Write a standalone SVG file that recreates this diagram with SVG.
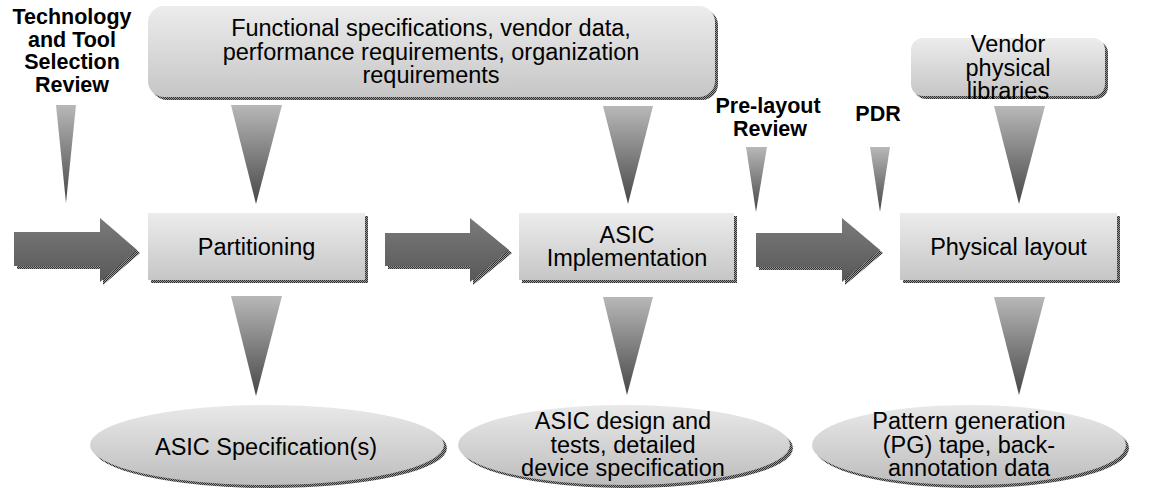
<svg xmlns="http://www.w3.org/2000/svg" width="1171" height="490" viewBox="0 0 1171 490">
  <style>
    .t { font-family: "Liberation Sans", Arial, sans-serif; font-size: 23.5px; fill: #000; text-anchor: middle; }
    .b { font-family: "Liberation Sans", Arial, sans-serif; font-size: 21.5px; font-weight: bold; fill: #000; text-anchor: middle; }
    .box { fill: url(#gBox); }
    .ell { fill: url(#gEll); }
    .sh { fill: url(#dither); }
    .tri { fill: url(#gTri); }
    .arr { fill: url(#gArr); }
  </style>
  <defs>
    <linearGradient id="gBox" x1="0" y1="0" x2="0" y2="1">
      <stop offset="0" stop-color="#ececec"/>
      <stop offset="1" stop-color="#c6c6c6"/>
    </linearGradient>
    <linearGradient id="gEll" x1="0" y1="0" x2="0" y2="1">
      <stop offset="0" stop-color="#e9e9e9"/>
      <stop offset="1" stop-color="#bdbdbd"/>
    </linearGradient>
    <linearGradient id="gTri" x1="0" y1="0" x2="0" y2="1">
      <stop offset="0" stop-color="#b8b8b8"/>
      <stop offset="1" stop-color="#474747"/>
    </linearGradient>
    <linearGradient id="gArr" x1="0" y1="0" x2="0" y2="1">
      <stop offset="0" stop-color="#7a7a7a"/>
      <stop offset="1" stop-color="#585858"/>
    </linearGradient>
    <pattern id="dither" width="2" height="2" patternUnits="userSpaceOnUse">
      <rect width="2" height="2" fill="#9a9a9a"/>
      <rect width="1" height="1" fill="#2e2e2e"/>
      <rect x="1" y="1" width="1" height="1" fill="#2e2e2e"/>
    </pattern>
  </defs>
  <rect width="1171" height="490" fill="#ffffff"/>

  <g id="connectors">
    <g id="flow-arrows">
      <polygon class="sh" points="17,235 103,235 103,221 140,253 103,285 103,269 17,269"/>
      <polygon class="arr" points="14,232 100,232 100,218 137,250 100,282 100,266 14,266"/>
      <polygon class="sh" points="388,236 473,236 473,221 512,253 473,285 473,269 388,269"/>
      <polygon class="arr" points="385,233 470,233 470,218 509,250 470,282 470,266 385,266"/>
      <polygon class="sh" points="759,236 845,236 845,221 883,253 845,285 845,270 759,270"/>
      <polygon class="arr" points="756,233 842,233 842,218 880,250 842,282 842,267 756,267"/>
    </g>
    <g id="input-triangles">
      <polygon class="tri" points="56,105 76,105 66,203"/>
      <polygon class="tri" points="231,105 282,105 256,204"/>
      <polygon class="tri" points="603,106 653,106 628,204"/>
      <polygon class="tri" points="746,147 767,147 756,212"/>
      <polygon class="tri" points="870,147 890,147 880,212"/>
      <polygon class="tri" points="994,106 1045,106 1019,204"/>
    </g>
    <g id="output-triangles">
      <polygon class="tri" points="231,296 282,296 256,396"/>
      <polygon class="tri" points="603,297 653,297 627,395"/>
      <polygon class="tri" points="994,297 1045,297 1019,395"/>
    </g>
  </g>

  <g id="review-tech">
    <text class="b" x="72" y="24">Technology</text>
    <text class="b" x="72" y="46.5">and Tool</text>
    <text class="b" x="72" y="69">Selection</text>
    <text class="b" x="72" y="91.5">Review</text>
  </g>
  <g id="review-prelayout">
    <text class="b" x="768" y="113">Pre-layout</text>
    <text class="b" x="770" y="136">Review</text>
  </g>
  <g id="review-pdr">
    <text class="b" x="878" y="121">PDR</text>
  </g>

  <g id="inputs">
    <rect class="sh" x="151" y="9" width="567" height="91" rx="16"/>
    <rect class="box" x="148" y="6" width="567" height="91" rx="16"/>
    <text class="t" x="431" y="36">Functional specifications, vendor data,</text>
    <text class="t" x="431" y="59.5">performance requirements, organization</text>
    <text class="t" x="431" y="83">requirements</text>
  </g>

  <g id="vendor-libs">
    <rect class="sh" x="914" y="41" width="194" height="58" rx="12"/>
    <rect class="box" x="911" y="38" width="194" height="58" rx="12"/>
    <text class="t" x="1008" y="52">Vendor</text>
    <text class="t" x="1008" y="75.5">physical</text>
    <text class="t" x="1008" y="99">libraries</text>
  </g>

  <g id="partitioning">
    <rect class="sh" x="151" y="216" width="217" height="67"/>
    <rect class="box" x="148" y="213" width="217" height="67"/>
    <text class="t" x="256.5" y="255">Partitioning</text>
  </g>

  <g id="asic-impl">
    <rect class="sh" x="522" y="216" width="215" height="67"/>
    <rect class="box" x="519" y="213" width="215" height="67"/>
    <text class="t" x="627" y="242.5">ASIC</text>
    <text class="t" x="627" y="266">Implementation</text>
  </g>

  <g id="physical-layout">
    <rect class="sh" x="903" y="216" width="217" height="67"/>
    <rect class="box" x="900" y="213" width="217" height="67"/>
    <text class="t" x="1008.5" y="255">Physical layout</text>
  </g>

  <g id="asic-spec">
    <ellipse class="sh" cx="270" cy="448" rx="177" ry="40"/>
    <ellipse class="ell" cx="267" cy="445" rx="177" ry="40"/>
    <text class="t" x="266" y="455">ASIC Specification(s)</text>
  </g>

  <g id="asic-design">
    <ellipse class="sh" cx="627" cy="448" rx="166" ry="40"/>
    <ellipse class="ell" cx="624" cy="445" rx="166" ry="40"/>
    <text class="t" x="623" y="429">ASIC design and</text>
    <text class="t" x="623" y="452.5">tests, detailed</text>
    <text class="t" x="623" y="476">device specification</text>
  </g>

  <g id="pg-tape">
    <ellipse class="sh" cx="972" cy="448" rx="157" ry="40"/>
    <ellipse class="ell" cx="969" cy="445" rx="157" ry="40"/>
    <text class="t" x="969" y="429">Pattern generation</text>
    <text class="t" x="969" y="452.5">(PG) tape, back-</text>
    <text class="t" x="969" y="476">annotation data</text>
  </g>
</svg>
